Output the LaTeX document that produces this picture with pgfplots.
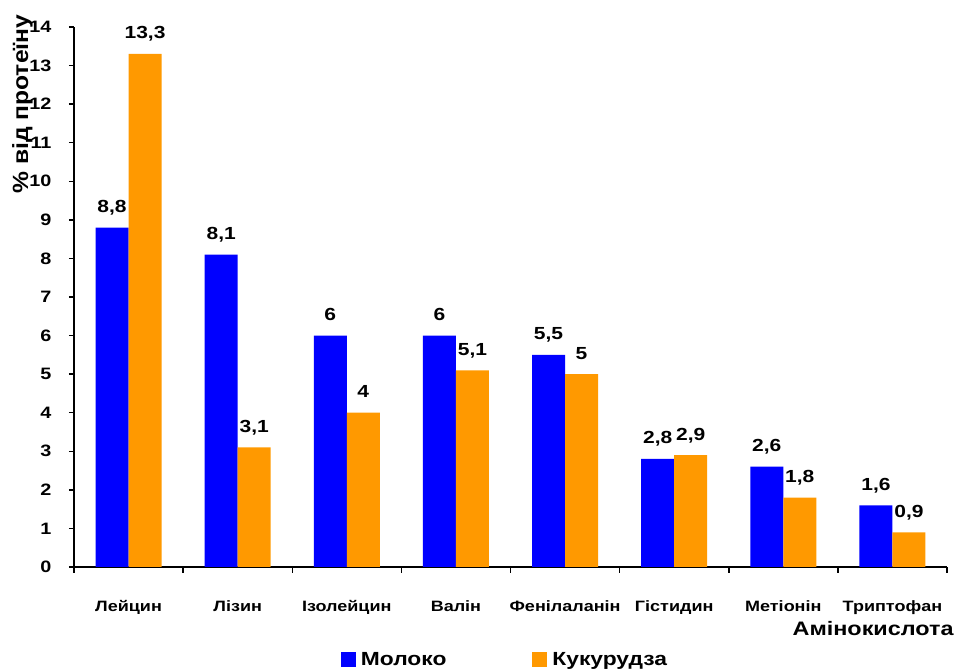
\documentclass[border=0pt]{standalone}
\usepackage{fontspec}
\setmainfont{Liberation Sans}[FakeStretch=1.2]
\newfontfamily\labfont{Liberation Sans}[FakeStretch=1.12]
\usepackage{pgfplots}
\pgfplotsset{compat=1.18}
\definecolor{milk}{RGB}{0,0,255}
\definecolor{corn}{RGB}{255,153,0}
\begin{document}
\begin{tikzpicture}
\path[use as bounding box] (-74pt,-104pt) rectangle (881pt,567pt);
\begin{axis}[
  scale only axis, width=873pt, height=540pt,
  xmin=-0.5, xmax=7.5, ymin=0, ymax=14,
  ybar=0pt, bar width=33pt,
  axis lines*=left,
  axis line style={line width=1.5pt},
  ytick={0,...,14},
  xtick={0,...,7},
  xticklabels={Лейцин,Лізин,Ізолейцин,Валін,Фенілаланін,Гістидин,Метіонін,Триптофан},
  minor xtick={-0.5,0.5,...,7.5},
  tick align=outside,
  major x tick style={draw=none},
  minor tick length=6pt, major tick length=5pt,
  tick style={line width=1.5pt, black},
  /pgf/number format/use comma,
  /pgf/number format/assume math mode=true,
  yticklabel style={font=\bfseries\fontsize{16.5}{16.5}\selectfont, anchor=east, xshift=-14pt},
  xticklabel style={font=\bfseries\fontsize{15}{15}\selectfont, anchor=base, yshift=-40pt},
  every axis y label/.style={at={(axis description cs:-0.059,0.857)}, rotate=90, anchor=center, font=\labfont\bfseries\fontsize{22}{22}\selectfont},
  ylabel={\% від протеїну},
  every axis x label/.style={at={(axis description cs:1.0116,-0.126)}, anchor=base east, font=\bfseries\fontsize{19.5}{19.5}\selectfont},
  xlabel={Амінокислота},
  nodes near coords,
  nodes near coords style={font=\bfseries\fontsize{17.5}{17.5}\selectfont, anchor=base, inner sep=0pt, yshift=15pt, text=black},
  legend style={at={(axis description cs:0.4937,-0.172)}, anchor=center, draw=none, fill=none,
    font=\bfseries\fontsize{19}{19}\selectfont, legend columns=2,
    /tikz/every even column/.append style={column sep=84pt}},
  legend image code/.code={\fill[#1] (0pt,-7pt) rectangle (15pt,8pt); \path (18pt,0pt);},
]
\addplot[fill=milk, draw=none] coordinates {(0,8.8) (1,8.1) (2,6) (3,6) (4,5.5) (5,2.8) (6,2.6) (7,1.6)};
\addplot[fill=corn, draw=none] coordinates {(0,13.3) (1,3.1) (2,4) (3,5.1) (4,5) (5,2.9) (6,1.8) (7,0.9)};
\legend{Молоко,Кукурудза}
\end{axis}
\end{tikzpicture}
\end{document}
